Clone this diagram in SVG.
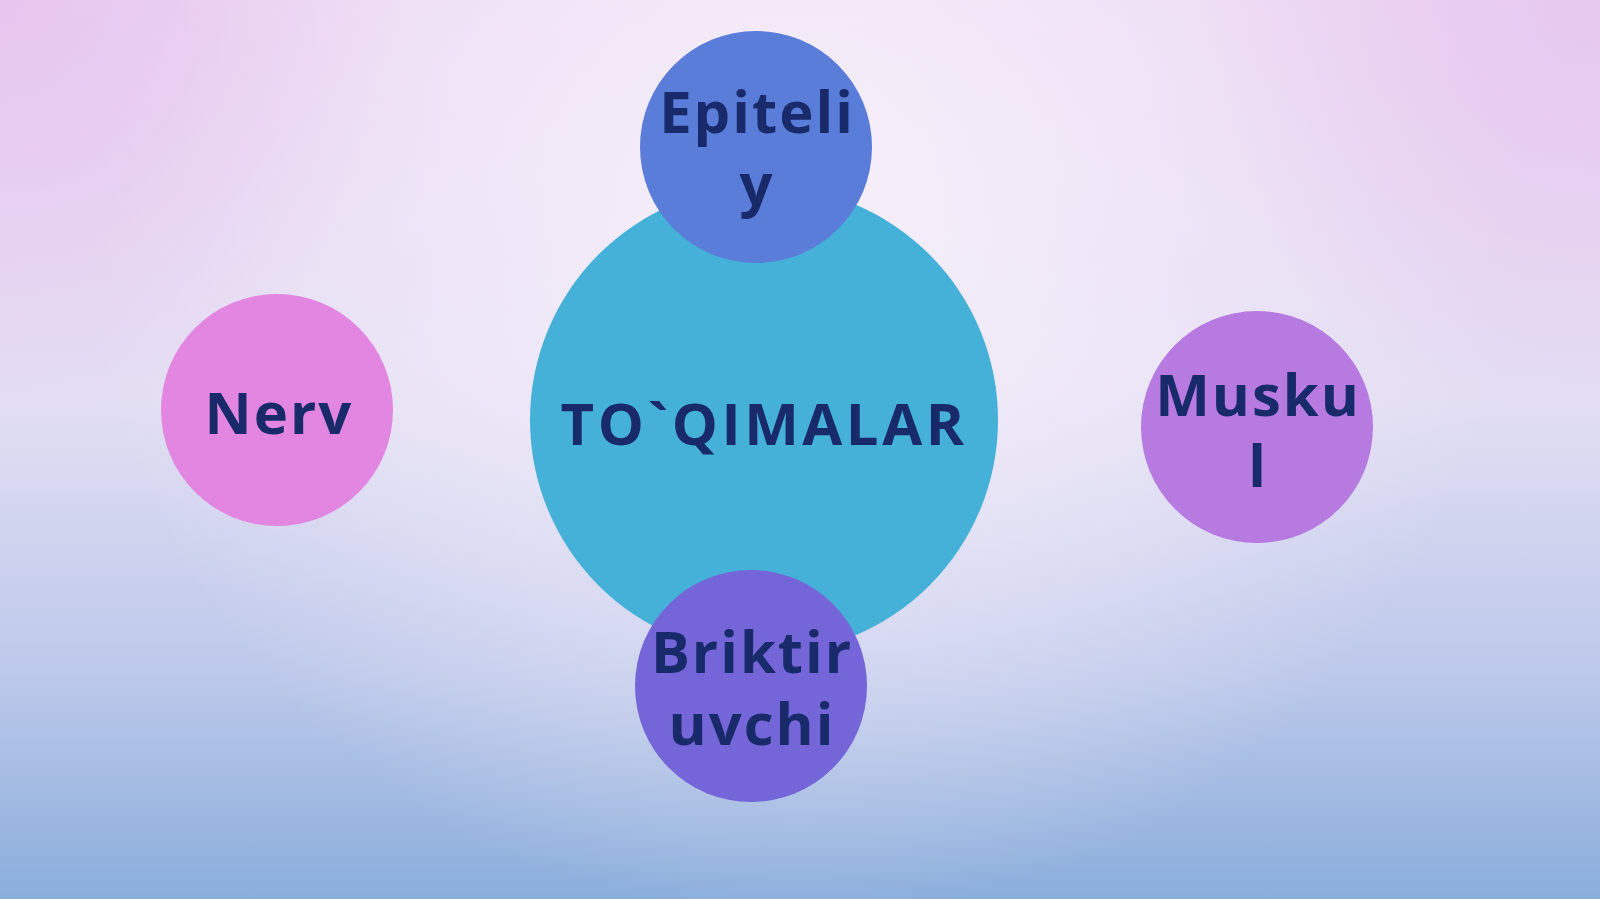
<svg xmlns="http://www.w3.org/2000/svg" width="1600" height="899" viewBox="0 0 1600 899">
  <defs>
    <linearGradient id="bg" x1="0" y1="0" x2="0" y2="1">
      <stop offset="0" stop-color="#ecd6f2"/>
      <stop offset="0.45" stop-color="#e2def3"/>
      <stop offset="0.75" stop-color="#bcc8ea"/>
      <stop offset="1" stop-color="#8aaedb"/>
    </linearGradient>
    <radialGradient id="glow" cx="800" cy="200" r="720" gradientUnits="userSpaceOnUse">
      <stop offset="0" stop-color="#f8f2fb" stop-opacity="0.95"/>
      <stop offset="0.5" stop-color="#f4eefa" stop-opacity="0.55"/>
      <stop offset="1" stop-color="#f4eefa" stop-opacity="0"/>
    </radialGradient>
    <radialGradient id="pinkL" cx="0" cy="0" r="420" gradientUnits="userSpaceOnUse">
      <stop offset="0" stop-color="#e6c4ee" stop-opacity="0.9"/>
      <stop offset="1" stop-color="#e6c4ee" stop-opacity="0"/>
    </radialGradient>
    <radialGradient id="pinkR" cx="1600" cy="0" r="420" gradientUnits="userSpaceOnUse">
      <stop offset="0" stop-color="#e6c6ee" stop-opacity="0.9"/>
      <stop offset="1" stop-color="#e6c6ee" stop-opacity="0"/>
    </radialGradient>
    <style>
      .lbl { font-family: "Open Sans", "Noto Sans", "Liberation Sans", sans-serif; font-weight: 700; font-size: 58px; fill: #182a6a; text-anchor: middle; letter-spacing: 2px; }
      .title { letter-spacing: 3.5px; }
    </style>
  </defs>

  <g id="background">
    <rect x="0" y="0" width="1600" height="899" fill="url(#bg)"/>
    <rect x="0" y="0" width="1600" height="899" fill="url(#glow)"/>
    <rect x="0" y="0" width="1600" height="899" fill="url(#pinkL)"/>
    <rect x="0" y="0" width="1600" height="899" fill="url(#pinkR)"/>
  </g>

  <g id="connectors"/>

  <g id="node-center">
    <circle cx="764" cy="420" r="234" fill="#45b0d8"/>
    <text class="lbl title" x="764" y="445">TO`QIMALAR</text>
  </g>

  <g id="node-epiteliy">
    <circle cx="756" cy="147" r="116" fill="#5a7dd9"/>
    <text class="lbl" x="757" y="133"><tspan x="757">Epiteli</tspan><tspan x="757" dy="72">y</tspan></text>
  </g>

  <g id="node-briktiruvchi">
    <circle cx="751" cy="686" r="116" fill="#7466d9"/>
    <text class="lbl" x="752" y="673"><tspan x="752">Briktir</tspan><tspan x="752" dy="72">uvchi</tspan></text>
  </g>

  <g id="node-nerv">
    <circle cx="277" cy="410" r="116" fill="#e386e1"/>
    <text class="lbl" x="279" y="434">Nerv</text>
  </g>

  <g id="node-muskul">
    <circle cx="1257" cy="427" r="116" fill="#b67ae0"/>
    <text class="lbl" x="1258" y="416"><tspan x="1258">Musku</tspan><tspan x="1258" dy="71">l</tspan></text>
  </g>
</svg>
